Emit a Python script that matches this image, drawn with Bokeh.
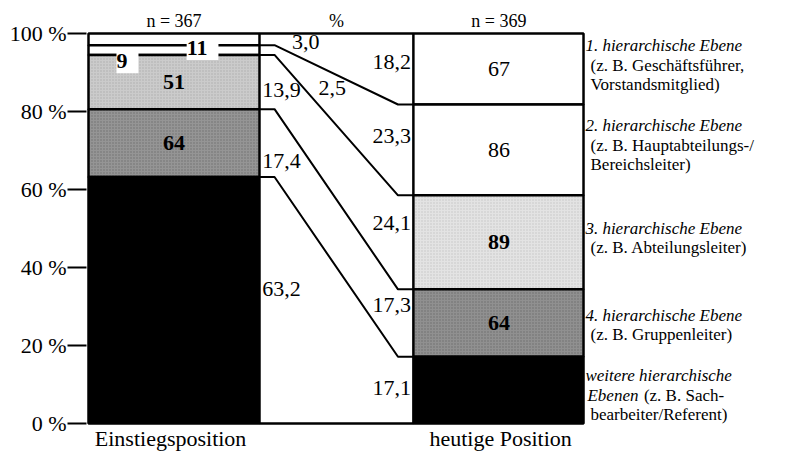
from bokeh.plotting import figure
from bokeh.models import Range1d, FixedTicker, Label
from bokeh.core.properties import value
from bokeh.embed import file_html
from bokeh.resources import INLINE

# ---------------- data ----------------
level_names = ["1. hierarchische Ebene", "2. hierarchische Ebene", "3. hierarchische Ebene",
               "4. hierarchische Ebene", "weitere hierarchische Ebenen"]
counts_einstieg = [11, 9, 51, 64, 232]
counts_heute = [67, 86, 89, 64, 63]
pct_einstieg = [3.0, 2.5, 13.9, 17.4, 63.2]
pct_heute = [18.2, 23.3, 24.1, 17.3, 17.1]
n_einstieg = 367
n_heute = 369
bar_names = ["Einstiegsposition", "heutige Position"]
y_ticks = [0, 20, 40, 60, 80, 100]

legend_lines = [
    [("1. hierarchische Ebene", ""), ("", "(z. B. Geschäftsführer,"), ("", "Vorstandsmitglied)")],
    [("2. hierarchische Ebene", ""), ("", "(z. B. Hauptabteilungs-/"), ("", "Bereichsleiter)")],
    [("3. hierarchische Ebene", ""), ("", "(z. B. Abteilungsleiter)")],
    [("4. hierarchische Ebene", ""), ("", "(z. B. Gruppenleiter)")],
    [("weitere hierarchische", ""), ("Ebenen", "(z. B. Sach-"), ("", "bearbeiter/Referent)")],
]

# ---------------- styles / layout ----------------
FONT = "serif"
colors_left = ["white", "white", "#cbcbcb", "#959595", "black"]
colors_right = ["white", "white", "#e3e3e3", "#909090", "black"]
hatch_pat = [" ", " ", ".", ".", " "]
hatch_col_left = ["white", "white", "#8a8a8a", "#404040", "white"]
hatch_col_right = ["white", "white", "#a0a0a0", "#404040", "white"]
LX0, LX1 = 0.0, 1.0
RX0, RX1 = 1.9, 2.895
LCX, RCX = 0.5, 2.4
MCX = 1.45

def stack(pcts):
    tops, bots = [], []
    acc = 0.0
    for v in pcts:
        tops.append(round(100 - acc, 3))
        acc += v
        bots.append(round(max(100 - acc, 0.0), 3))
    return tops, bots

lt, lb = stack(pct_einstieg)
rt, rb = stack(pct_heute)

p = figure(width=780, height=454, output_backend="svg", toolbar_location=None,
           x_range=Range1d(-0.0117, 4.047), y_range=Range1d(-7.95, 108.46),
           min_border_left=86, min_border_right=0, min_border_top=0, min_border_bottom=0,
           x_axis_location=None)
p.outline_line_color = None
p.grid.visible = False
p.background_fill_color = "white"
p.border_fill_color = "white"

ya = p.yaxis[0]
ya.ticker = FixedTicker(ticks=y_ticks)
ya.major_label_overrides = {t: f"{t} %" for t in y_ticks}
ya.major_tick_out = 19
ya.major_tick_in = 0
ya.minor_tick_out = 0
ya.minor_tick_in = 0
ya.major_tick_line_width = 2
ya.axis_line_color = None
ya.major_label_standoff = 1
ya.major_label_text_font = FONT
ya.major_label_text_font_size = "22px"
ya.major_label_text_color = "black"

# titles above and names below (inside the frame)
p.text(x=[LCX, MCX, RCX], y=[103.3] * 3, text=[f"n = {n_einstieg}", "%", f"n = {n_heute}"],
       text_font=value(FONT), text_font_size="18px", text_align="center",
       text_baseline="middle", text_color="black")
p.text(x=[0.48, 2.41], y=[-3.85] * 2, text=bar_names,
       text_font=value(FONT), text_font_size="22px", text_align="center",
       text_baseline="middle", text_color="black")

p.segment(x0=[LX1, LX1], y0=[100, 0], x1=[RX0, RX0], y1=[100, 0], line_color="black", line_width=2.5)

p.quad(left=[LX0] * 5, right=[LX1] * 5, top=lt, bottom=lb,
       fill_color=colors_left, line_color="black", line_width=2.5,
       hatch_pattern=hatch_pat, hatch_color=hatch_col_left, hatch_alpha=0.45,
       hatch_scale=3, hatch_weight=1)
p.quad(left=[RX0] * 5, right=[RX1] * 5, top=rt, bottom=rb,
       fill_color=colors_right, line_color="black", line_width=2.5,
       hatch_pattern=hatch_pat, hatch_color=hatch_col_right, hatch_alpha=0.45,
       hatch_scale=3, hatch_weight=1)

xs, ys = [], []
for L, R in zip(lb[:-1], rb[:-1]):
    xs.append([LX1, LX1 + 0.088, RX0 - 0.09, RX0])
    ys.append([L, L, R, R])
p.multi_line(xs=xs, ys=ys, line_color="black", line_width=2)

mid = lambda t, b: (t + b) / 2
p.text(x=[LCX, LCX], y=[mid(lt[2], lb[2]), mid(lt[3], lb[3])],
       text=[str(counts_einstieg[2]), str(counts_einstieg[3])],
       text_font=value(FONT), text_font_size="22px", text_font_style="bold",
       text_align="center", text_baseline="middle", text_color="black")
p.text(x=[RCX, RCX], y=[mid(rt[0], rb[0]), mid(rt[1], rb[1])],
       text=[str(counts_heute[0]), str(counts_heute[1])],
       text_font=value(FONT), text_font_size="22px",
       text_align="center", text_baseline="middle", text_color="black")
p.text(x=[RCX, RCX], y=[mid(rt[2], rb[2]), mid(rt[3], rb[3])],
       text=[str(counts_heute[2]), str(counts_heute[3])],
       text_font=value(FONT), text_font_size="22px", text_font_style="bold",
       text_align="center", text_baseline="middle", text_color="black")

for txt, xx, yy in [(f" {counts_einstieg[0]} ", 0.667, 96.4), (f" {counts_einstieg[1]} ", 0.228, 93.0)]:
    p.add_layout(Label(x=xx, y=yy, text=txt, text_font=FONT, text_font_size="22px",
                       text_font_style="bold", text_align="center", text_baseline="middle",
                       background_fill_color="white", text_color="black"))

fmt = lambda v: f"{v:.1f}".replace(".", ",")

left_pos = [(1.19, 97.8), (1.345, 85.9), (1.016, 85.4), (1.016, 67.4), (1.016, 34.6)]
p.text(x=[q[0] for q in left_pos], y=[q[1] for q in left_pos],
       text=[fmt(v) for v in pct_einstieg],
       text_font=value(FONT), text_font_size="22px",
       text_align="left", text_baseline="middle", text_color="black")
right_y = [92.6, 73.8, 51.5, 30.3, 9.0]
p.text(x=[RX0 - 0.014] * 5, y=right_y, text=[fmt(v) for v in pct_heute],
       text_font=value(FONT), text_font_size="22px",
       text_align="right", text_baseline="middle", text_color="black")

group_y = [96.9, 76.4, 50.0, 27.7, 12.3]
step = 5.0
ix, iy, itx = [], [], []
nx, ny, ntx = [], [], []
for g, lines in enumerate(legend_lines):
    for k, (ital, norm) in enumerate(lines):
        yy = group_y[g] - k * step
        if ital and norm:
            ix.append(2.918); iy.append(yy); itx.append(ital)
            nx.append(2.918 + 0.33); ny.append(yy); ntx.append(norm)
        elif ital:
            ix.append(2.906); iy.append(yy); itx.append(ital)
        else:
            nx.append(2.936); ny.append(yy); ntx.append(norm)
p.text(x=ix, y=iy, text=itx, text_font=value(FONT), text_font_size="17px",
       text_font_style="italic", text_align="left", text_baseline="middle", text_color="black")
p.text(x=nx, y=ny, text=ntx, text_font=value(FONT), text_font_size="17px",
       text_align="left", text_baseline="middle", text_color="black")

open("out.html", "w").write(file_html(p, INLINE))
